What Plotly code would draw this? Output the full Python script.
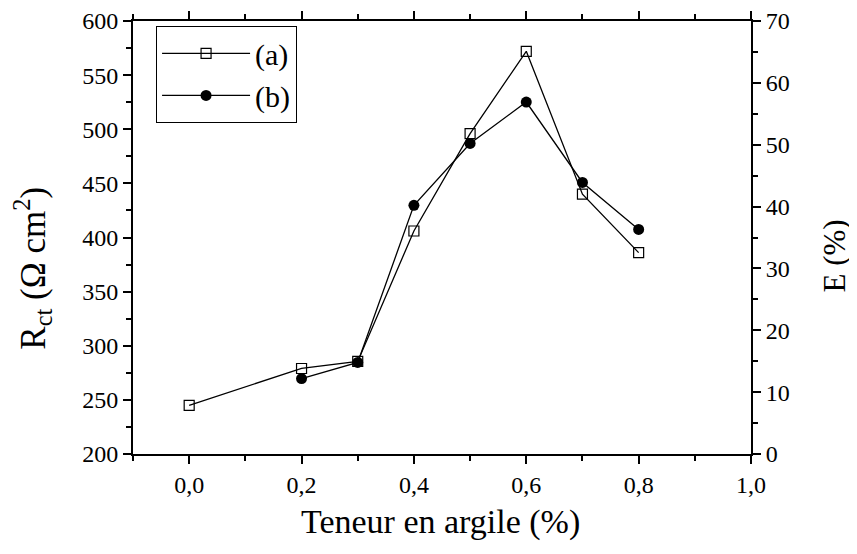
import plotly.graph_objects as go

x_a = [0.0, 0.2, 0.3, 0.4, 0.5, 0.6, 0.7, 0.8]
rct_a = [245, 279, 285.5, 406, 496, 572, 440, 386]
x_b = [0.2, 0.3, 0.4, 0.5, 0.6, 0.7, 0.8]
e_b = [12.2, 14.8, 40.2, 50.2, 56.9, 43.9, 36.3]

FONT = "Liberation Serif, Times New Roman, serif"

fig = go.Figure()
fig.add_trace(go.Scatter(
    x=x_a, y=rct_a, name="(a)", mode="lines+markers",
    line=dict(color="black", width=1.3),
    marker=dict(symbol="square-open", size=10, color="black", line=dict(width=1.2)),
))
fig.add_trace(go.Scatter(
    x=x_b, y=e_b, name="(b)", mode="lines+markers", yaxis="y2",
    line=dict(color="black", width=1.3),
    marker=dict(symbol="circle", size=11, color="black"),
))

axis_common = dict(
    showgrid=False, zeroline=False, showline=True, linecolor="black", linewidth=2,
    ticks="outside", ticklen=8, tickwidth=1.5, tickcolor="black", automargin=False,
    tickfont=dict(family=FONT, size=24, color="black"),
)

fig.update_layout(
    width=857, height=554,
    margin=dict(l=125, r=114, t=13, b=108),
    plot_bgcolor="white", paper_bgcolor="white",
    separators=", ",
    showlegend=True,
    legend=dict(
        x=0.037, y=0.988, xanchor="left", yanchor="top",
        bordercolor="black", borderwidth=1.2, bgcolor="white",
        font=dict(family=FONT, size=30, color="black"),
        itemwidth=88, tracegroupgap=4,
    ),
    xaxis=dict(
        **axis_common, range=[-0.1, 1.0], tickvals=[0, 0.2, 0.4, 0.6, 0.8, 1.0],
        tickformat=".1f", mirror="ticks",
        minor=dict(ticks="outside", ticklen=5, tickwidth=1.5, tickcolor="black", dtick=0.1, tick0=0),
    ),
    yaxis=dict(
        **axis_common, range=[200, 600], dtick=50,
        minor=dict(ticks="outside", ticklen=5, tickwidth=1.5, tickcolor="black", dtick=25),
    ),
    yaxis2=dict(
        **axis_common, range=[0, 70], dtick=10, overlaying="y", side="right",
        minor=dict(ticks="outside", ticklen=5, tickwidth=1.5, tickcolor="black", dtick=5),
    ),
    annotations=[
        dict(text="Teneur en argile (%)", xref="paper", yref="paper", x=0.497, y=-0.157,
             xanchor="center", yanchor="middle", showarrow=False,
             font=dict(family=FONT, size=34, color="black")),
        dict(text="R<sub>ct</sub> (Ω cm<sup>2</sup>)", xref="paper", yref="paper", x=-0.162, y=0.43,
             xanchor="center", yanchor="middle", showarrow=False, textangle=-90,
             font=dict(family=FONT, size=35, color="black")),
        dict(text="E (%)", xref="paper", yref="paper", x=1.135, y=0.457,
             xanchor="center", yanchor="middle", showarrow=False, textangle=-90,
             font=dict(family=FONT, size=31, color="black")),
    ],
)

fig.write_html("out.html")
